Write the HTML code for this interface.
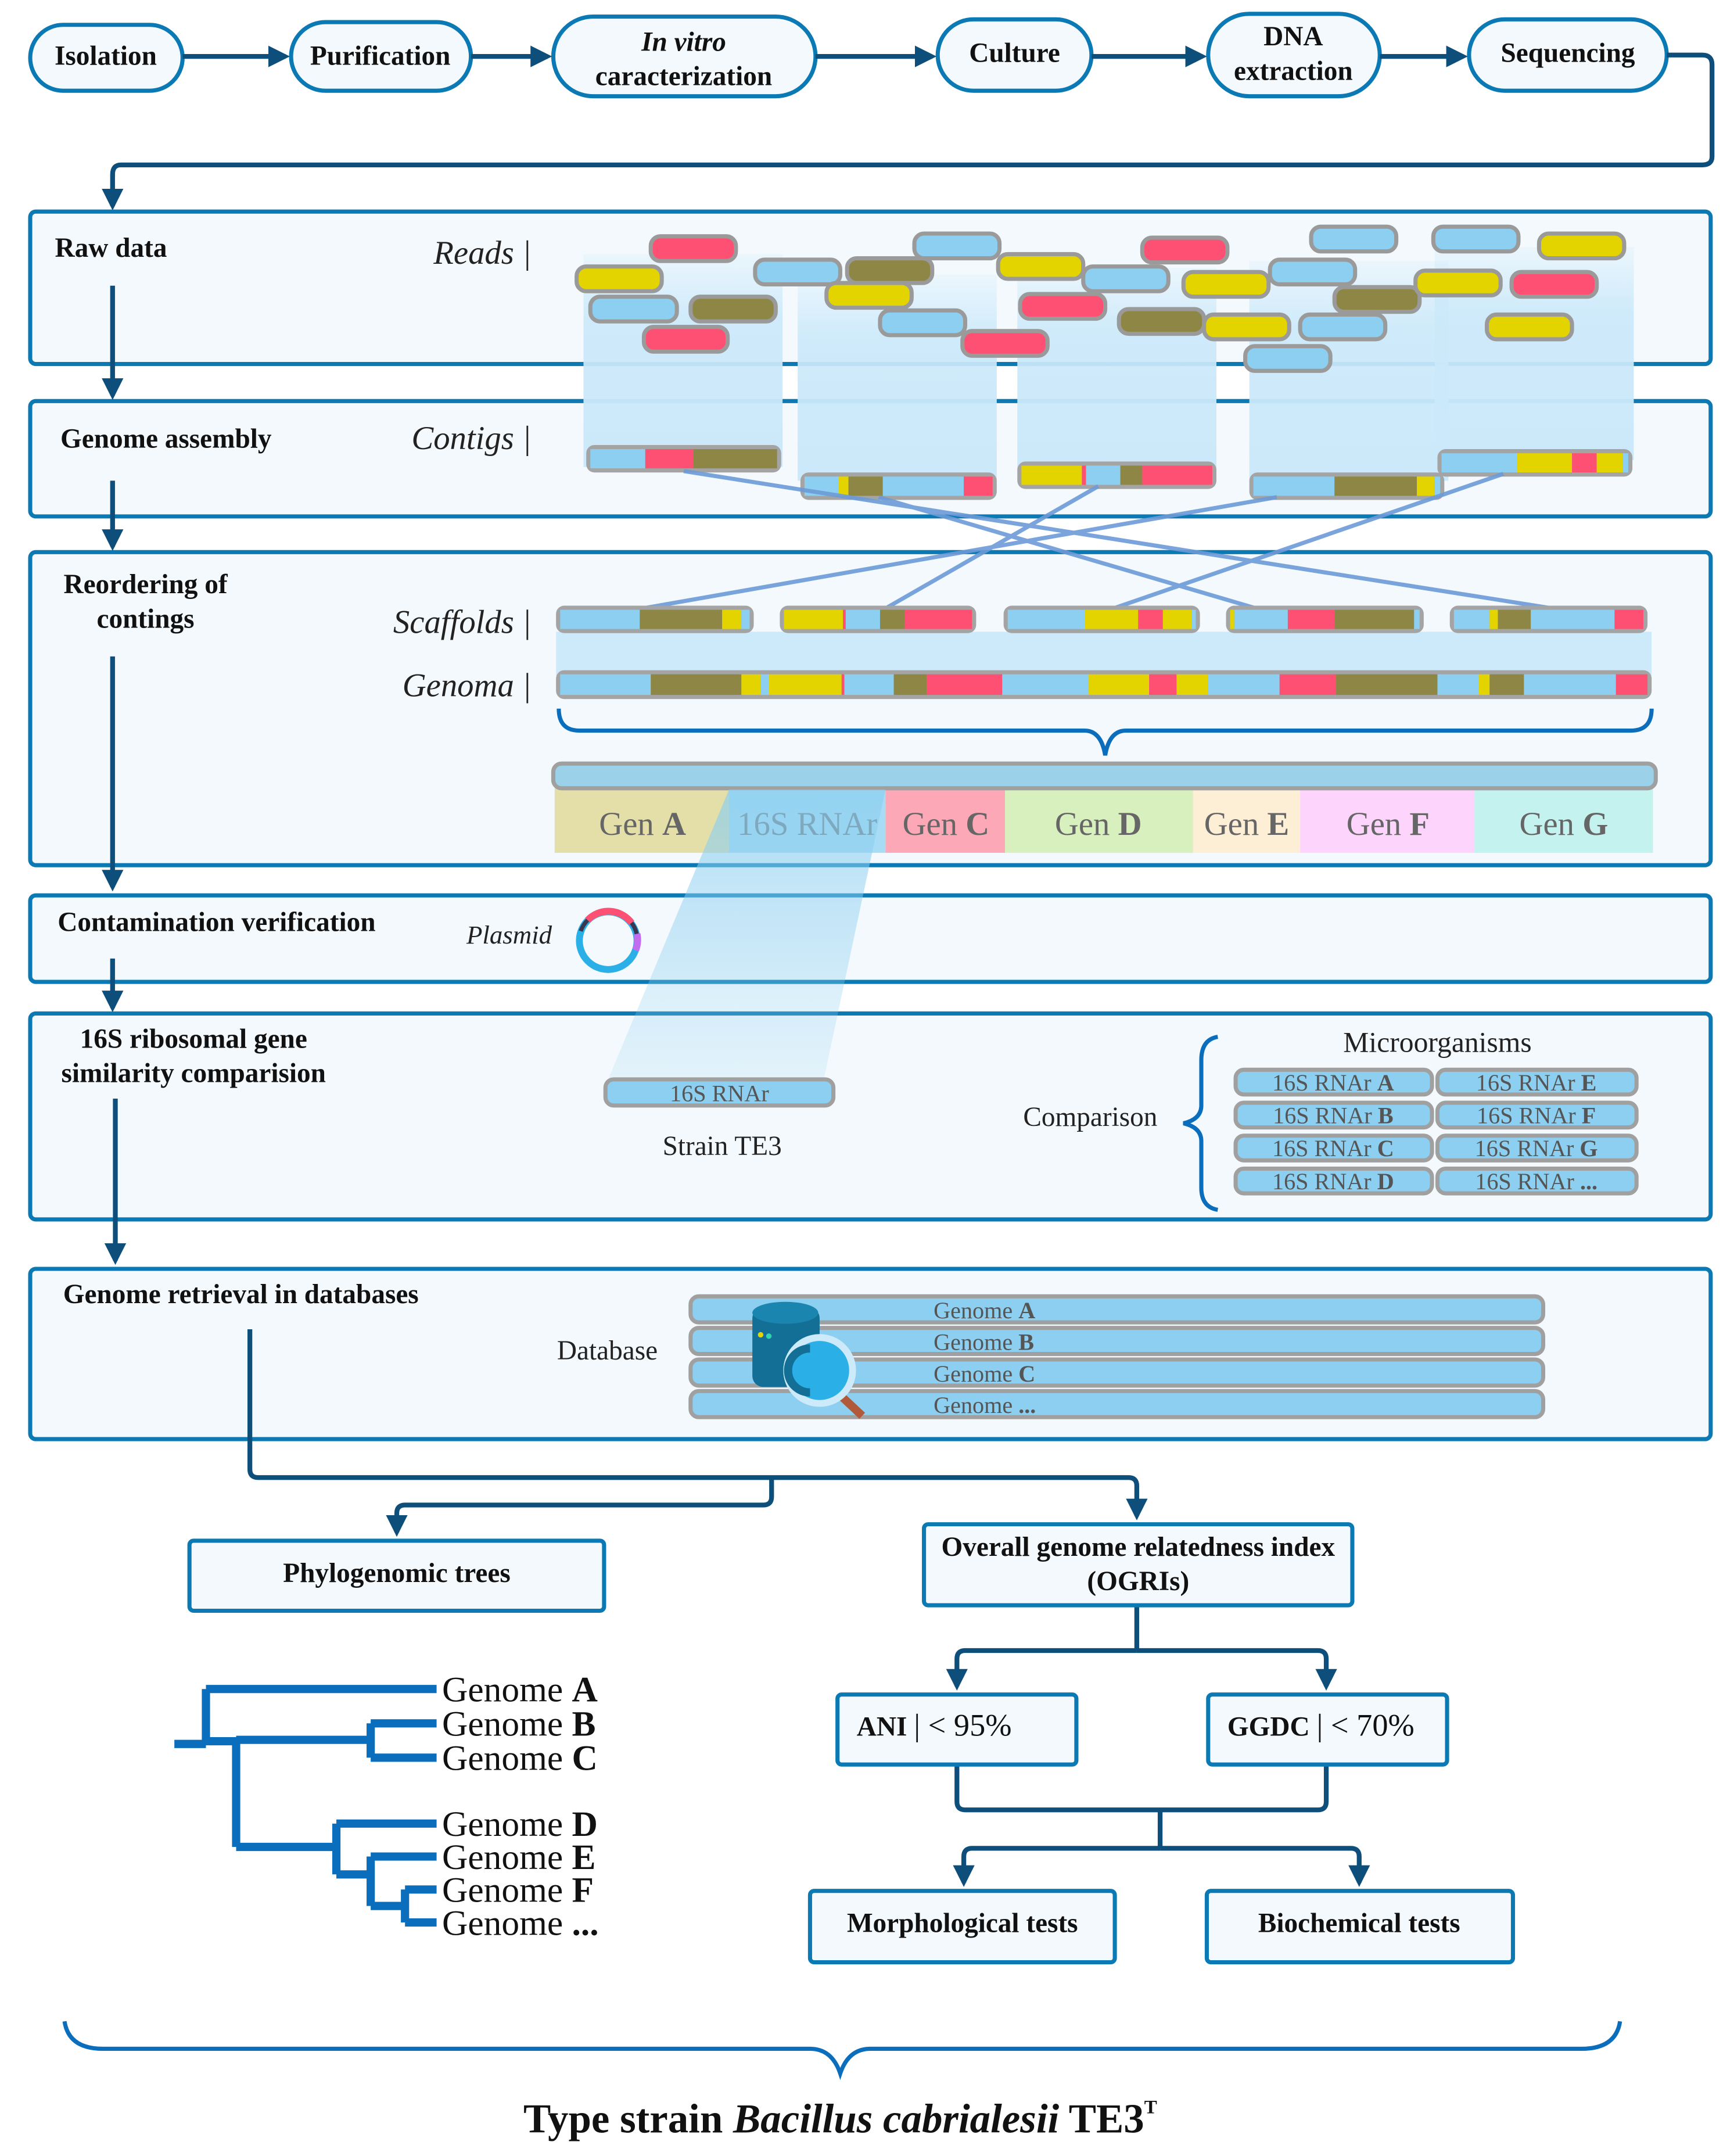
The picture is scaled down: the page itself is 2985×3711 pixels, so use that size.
<!DOCTYPE html>
<html><head><meta charset="utf-8"><style>
html,body{margin:0;padding:0;background:#fff}
svg{display:block}
text{font-family:"Liberation Serif",serif}
.b{font-weight:bold;font-size:20px;fill:#111}
.it{font-style:italic;font-size:24px;fill:#222}
.g{font-size:24px;fill:#666}
.sm{font-size:16px;fill:#555}
</style></head><body>
<svg width="2985" height="3711" viewBox="0 0 1263 1570" xmlns="http://www.w3.org/2000/svg">
<defs>
<marker id="ar" viewBox="0 0 10 10" refX="8" refY="5" markerWidth="4.5" markerHeight="4.5" orient="auto"><path d="M0,0L10,5L0,10z" fill="#0d4f7a"/></marker>
<linearGradient id="col" x1="0" y1="0" x2="0" y2="1"><stop offset="0" stop-color="#cbe9fa" stop-opacity="0.2"/><stop offset="0.3" stop-color="#cbe9fa" stop-opacity="0.9"/><stop offset="1" stop-color="#cbe9fa"/></linearGradient>
<linearGradient id="cone" x1="0" y1="0" x2="0" y2="1"><stop offset="0" stop-color="#8ccff0" stop-opacity="0.7"/><stop offset="1" stop-color="#8ccff0" stop-opacity="0.15"/></linearGradient>
</defs>
<rect width="1263" height="1570" fill="#fff"/>

<g fill="#f3f9fd" stroke="#0b79b3" stroke-width="3">
<rect x="22" y="18" width="111" height="48" rx="24"/>
<rect x="212" y="16" width="131" height="50" rx="25"/>
<rect x="403" y="12" width="191" height="58" rx="29"/>
<rect x="683" y="14" width="112" height="52" rx="26"/>
<rect x="880" y="10" width="125" height="60" rx="30"/>
<rect x="1070" y="14" width="144" height="52" rx="26"/>
</g>
<g class="b" text-anchor="middle">
<text x="77" y="47" class="b">Isolation</text>
<text x="277" y="47" class="b">Purification</text>
<text x="498" y="37" class="b" font-style="italic">In vitro</text>
<text x="498" y="62" class="b">caracterization</text>
<text x="739" y="45" class="b">Culture</text>
<text x="942" y="33" class="b">DNA</text>
<text x="942" y="58" class="b">extraction</text>
<text x="1142" y="45" class="b">Sequencing</text>
</g>
<g stroke="#0d4f7a" stroke-width="3.5" fill="none" marker-end="url(#ar)">
<line x1="133" y1="41" x2="208" y2="41"/>
<line x1="343" y1="41" x2="399" y2="41"/>
<line x1="594" y1="41" x2="679" y2="41"/>
<line x1="795" y1="41" x2="876" y2="41"/>
<line x1="1005" y1="41" x2="1066" y2="41"/>
<path d="M1214,40 H1240 Q1247,40 1247,47 V114 Q1247,120 1240,120 H88 Q82,120 82,127 V150"/>
</g>

<g fill="#f3f9fd" stroke="#0b79b3" stroke-width="3">
<rect x="22" y="154" width="1224" height="111" rx="4"/>
<rect x="22" y="292" width="1224" height="84" rx="4"/>
<rect x="22" y="402" width="1224" height="228" rx="4"/>
<rect x="22" y="652" width="1224" height="63" rx="4"/>
<rect x="22" y="738" width="1224" height="150" rx="4"/>
<rect x="22" y="924" width="1224" height="124" rx="4"/>
</g>
<g stroke="#0d4f7a" stroke-width="3.5" fill="none" marker-end="url(#ar)">
<line x1="82" y1="208" x2="82" y2="288"/>
<line x1="82" y1="350" x2="82" y2="398"/>
<line x1="82" y1="478" x2="82" y2="646"/>
<line x1="82" y1="698" x2="82" y2="734"/>
<line x1="84" y1="800" x2="84" y2="918"/>
</g>
<text x="40" y="187" class="b">Raw data</text>
<text x="44" y="326" class="b">Genome assembly</text>
<text x="106" y="432" class="b" text-anchor="middle">Reordering of</text>
<text x="106" y="457" class="b" text-anchor="middle">contings</text>
<text x="42" y="678" class="b">Contamination verification</text>
<text x="141" y="763" class="b" text-anchor="middle">16S ribosomal gene</text>
<text x="141" y="788" class="b" text-anchor="middle">similarity comparision</text>
<text x="46" y="949" class="b">Genome retrieval in databases</text>

<text x="387" y="192" class="it" text-anchor="end">Reads |</text>
<text x="387" y="327" class="it" text-anchor="end">Contigs |</text>
<text x="387" y="461" class="it" text-anchor="end">Scaffolds |</text>
<text x="387" y="507" class="it" text-anchor="end">Genoma |</text>

<g fill="url(#col)">
<rect x="425" y="185" width="145" height="155"/>
<rect x="581" y="200" width="145" height="150"/>
<rect x="741" y="195" width="145" height="150"/>
<rect x="910" y="190" width="145" height="160"/>
<rect x="1045" y="180" width="145" height="155"/>
</g>

<g stroke="#9a9a9a" stroke-width="3">
<rect x="474" y="172" width="62" height="18" rx="7" fill="#fd5073"/>
<rect x="420" y="194" width="62" height="18" rx="7" fill="#e3d400"/>
<rect x="430" y="216" width="63" height="18" rx="7" fill="#8ccff0"/>
<rect x="503" y="216" width="62" height="18" rx="7" fill="#8e8645"/>
<rect x="469" y="238" width="61" height="18" rx="7" fill="#fd5073"/>
<rect x="666" y="170" width="62" height="18" rx="7" fill="#8ccff0"/>
<rect x="550" y="189" width="62" height="18" rx="7" fill="#8ccff0"/>
<rect x="617" y="188" width="62" height="18" rx="7" fill="#8e8645"/>
<rect x="602" y="206" width="62" height="18" rx="7" fill="#e3d400"/>
<rect x="641" y="226" width="62" height="18" rx="7" fill="#8ccff0"/>
<rect x="701" y="241" width="62" height="18" rx="7" fill="#fd5073"/>
<rect x="727" y="185" width="62" height="18" rx="7" fill="#e3d400"/>
<rect x="832" y="173" width="62" height="18" rx="7" fill="#fd5073"/>
<rect x="789" y="194" width="62" height="18" rx="7" fill="#8ccff0"/>
<rect x="743" y="214" width="62" height="18" rx="7" fill="#fd5073"/>
<rect x="815" y="225" width="62" height="18" rx="7" fill="#8e8645"/>
<rect x="862" y="198" width="62" height="18" rx="7" fill="#e3d400"/>
<rect x="877" y="229" width="62" height="18" rx="7" fill="#e3d400"/>
<rect x="955" y="165" width="62" height="18" rx="7" fill="#8ccff0"/>
<rect x="925" y="189" width="62" height="18" rx="7" fill="#8ccff0"/>
<rect x="972" y="209" width="62" height="18" rx="7" fill="#8e8645"/>
<rect x="947" y="229" width="62" height="18" rx="7" fill="#8ccff0"/>
<rect x="907" y="252" width="62" height="18" rx="7" fill="#8ccff0"/>
<rect x="1044" y="165" width="62" height="18" rx="7" fill="#8ccff0"/>
<rect x="1121" y="170" width="62" height="18" rx="7" fill="#e3d400"/>
<rect x="1031" y="197" width="62" height="18" rx="7" fill="#e3d400"/>
<rect x="1101" y="198" width="62" height="18" rx="7" fill="#fd5073"/>
<rect x="1083" y="229" width="62" height="18" rx="7" fill="#e3d400"/>
</g>

<g>
<rect x="427" y="324" width="142" height="20" rx="6" fill="#a4a4a4"/>
<rect x="430" y="327" width="40" height="14" fill="#8ccff0"/><rect x="470" y="327" width="35" height="14" fill="#fd5073"/><rect x="505" y="327" width="61" height="14" fill="#8e8645"/>
<rect x="583" y="344" width="143" height="20" rx="6" fill="#a4a4a4"/>
<rect x="586" y="347" width="25" height="14" fill="#8ccff0"/><rect x="611" y="347" width="7" height="14" fill="#e3d400"/><rect x="618" y="347" width="25" height="14" fill="#8e8645"/><rect x="643" y="347" width="59" height="14" fill="#8ccff0"/><rect x="702" y="347" width="21" height="14" fill="#fd5073"/>
<rect x="741" y="336" width="145" height="20" rx="6" fill="#a4a4a4"/>
<rect x="744" y="339" width="44" height="14" fill="#e3d400"/><rect x="788" y="339" width="3" height="14" fill="#fd5073"/><rect x="791" y="339" width="25" height="14" fill="#8ccff0"/><rect x="816" y="339" width="16" height="14" fill="#8e8645"/><rect x="832" y="339" width="51" height="14" fill="#fd5073"/>
<rect x="910" y="344" width="142" height="20" rx="6" fill="#a4a4a4"/>
<rect x="913" y="347" width="59" height="14" fill="#8ccff0"/><rect x="972" y="347" width="60" height="14" fill="#8e8645"/><rect x="1032" y="347" width="13" height="14" fill="#e3d400"/><rect x="1045" y="347" width="4" height="14" fill="#8ccff0"/>
<rect x="1047" y="327" width="142" height="20" rx="6" fill="#a4a4a4"/>
<rect x="1050" y="330" width="55" height="14" fill="#8ccff0"/><rect x="1105" y="330" width="40" height="14" fill="#e3d400"/><rect x="1145" y="330" width="18" height="14" fill="#fd5073"/><rect x="1163" y="330" width="19" height="14" fill="#e3d400"/><rect x="1182" y="330" width="4" height="14" fill="#8ccff0"/>
</g>

<rect x="405" y="460" width="798" height="32" fill="#cdeafa"/>

<g stroke="#6c9bd8" stroke-width="3" opacity="0.9">
<line x1="498" y1="343" x2="1131" y2="443"/>
<line x1="930" y1="362" x2="468" y2="443"/>
<line x1="800" y1="354" x2="645" y2="443"/>
<line x1="1095" y1="345" x2="811" y2="443"/>
<line x1="640" y1="362" x2="915" y2="443"/>
</g>

<g>
<rect x="405" y="441" width="144" height="20" rx="6" fill="#a4a4a4"/>
<rect x="408" y="444" width="58" height="14" fill="#8ccff0"/><rect x="466" y="444" width="60" height="14" fill="#8e8645"/><rect x="526" y="444" width="14" height="14" fill="#e3d400"/><rect x="540" y="444" width="6" height="14" fill="#8ccff0"/>
<rect x="568" y="441" width="143" height="20" rx="6" fill="#a4a4a4"/>
<rect x="571" y="444" width="43" height="14" fill="#e3d400"/><rect x="614" y="444" width="2" height="14" fill="#fd5073"/><rect x="616" y="444" width="25" height="14" fill="#8ccff0"/><rect x="641" y="444" width="18" height="14" fill="#8e8645"/><rect x="659" y="444" width="49" height="14" fill="#fd5073"/>
<rect x="731" y="441" width="143" height="20" rx="6" fill="#a4a4a4"/>
<rect x="734" y="444" width="56" height="14" fill="#8ccff0"/><rect x="790" y="444" width="39" height="14" fill="#e3d400"/><rect x="829" y="444" width="18" height="14" fill="#fd5073"/><rect x="847" y="444" width="21" height="14" fill="#e3d400"/><rect x="868" y="444" width="3" height="14" fill="#8ccff0"/>
<rect x="893" y="441" width="144" height="20" rx="6" fill="#a4a4a4"/>
<rect x="896" y="444" width="3" height="14" fill="#e3d400"/><rect x="899" y="444" width="39" height="14" fill="#8ccff0"/><rect x="938" y="444" width="34" height="14" fill="#fd5073"/><rect x="972" y="444" width="58" height="14" fill="#8e8645"/><rect x="1030" y="444" width="4" height="14" fill="#8ccff0"/>
<rect x="1056" y="441" width="144" height="20" rx="6" fill="#a4a4a4"/>
<rect x="1059" y="444" width="26" height="14" fill="#8ccff0"/><rect x="1085" y="444" width="6" height="14" fill="#e3d400"/><rect x="1091" y="444" width="24" height="14" fill="#8e8645"/><rect x="1115" y="444" width="61" height="14" fill="#8ccff0"/><rect x="1176" y="444" width="21" height="14" fill="#fd5073"/>
</g>
<g>
<rect x="405" y="488" width="798" height="21" rx="6" fill="#a4a4a4"/>
<g transform="translate(0,491)">
<rect x="408" width="66" height="15" fill="#8ccff0"/><rect x="474" width="66" height="15" fill="#8e8645"/><rect x="540" width="14" height="15" fill="#e3d400"/><rect x="554" width="6" height="15" fill="#8ccff0"/><rect x="560" width="53" height="15" fill="#e3d400"/><rect x="613" width="2" height="15" fill="#fd5073"/><rect x="615" width="36" height="15" fill="#8ccff0"/><rect x="651" width="24" height="15" fill="#8e8645"/><rect x="675" width="55" height="15" fill="#fd5073"/><rect x="730" width="63" height="15" fill="#8ccff0"/><rect x="793" width="44" height="15" fill="#e3d400"/><rect x="837" width="20" height="15" fill="#fd5073"/><rect x="857" width="23" height="15" fill="#e3d400"/><rect x="880" width="52" height="15" fill="#8ccff0"/><rect x="932" width="41" height="15" fill="#fd5073"/><rect x="973" width="74" height="15" fill="#8e8645"/><rect x="1047" width="30" height="15" fill="#8ccff0"/><rect x="1077" width="8" height="15" fill="#e3d400"/><rect x="1085" width="25" height="15" fill="#8e8645"/><rect x="1110" width="67" height="15" fill="#8ccff0"/><rect x="1177" width="23" height="15" fill="#fd5073"/>
</g>
</g>
<path d="M407,516 Q407,532 422,532 H790 Q802,532 805,550 Q808,532 820,532 H1188 Q1203,532 1203,516" fill="none" stroke="#0a6ebd" stroke-width="3"/>

<rect x="404" y="573" width="127" height="48" fill="#e4dea9"/>
<rect x="531" y="573" width="114" height="48" fill="#a8dcf5"/>
<rect x="645" y="573" width="87" height="48" fill="#fda8b6"/>
<rect x="732" y="573" width="137" height="48" fill="#d7f0bd"/>
<rect x="869" y="573" width="78" height="48" fill="#fdeed6"/>
<rect x="947" y="573" width="127" height="48" fill="#fdd4fb"/>
<rect x="1074" y="573" width="130" height="48" fill="#c3f2ef"/>
<rect x="403" y="556" width="803" height="18" rx="6" fill="#9bd2ea" stroke="#a0a0a0" stroke-width="3"/>
<g class="g" text-anchor="middle">
<text x="468" y="608" class="g">Gen <tspan font-weight="bold">A</tspan></text>
<text x="588" y="608" class="g" fill="#8aa">16S RNAr</text>
<text x="689" y="608" class="g">Gen <tspan font-weight="bold">C</tspan></text>
<text x="800" y="608" class="g">Gen <tspan font-weight="bold">D</tspan></text>
<text x="908" y="608" class="g">Gen <tspan font-weight="bold">E</tspan></text>
<text x="1011" y="608" class="g">Gen <tspan font-weight="bold">F</tspan></text>
<text x="1139" y="608" class="g">Gen <tspan font-weight="bold">G</tspan></text>
</g>

<polygon points="531,575 645,575 600,786 443,786" fill="url(#cone)"/>

<text x="402" y="687" class="it" style="font-size:19px" text-anchor="end">Plasmid</text>
<circle cx="443" cy="685" r="21" fill="none" stroke="#2ab0e6" stroke-width="5"/>
<path d="M428,670 A21,21 0 0 1 460,672" fill="none" stroke="#fd5073" stroke-width="5"/>
<path d="M460,672 A21,21 0 0 1 464,688" fill="none" stroke="#3a3550" stroke-width="3"/>
<path d="M464,680 A21,21 0 0 1 463,692" fill="none" stroke="#c26cf0" stroke-width="5"/>
<path d="M423,678 A21,21 0 0 1 428,670" fill="none" stroke="#3a3550" stroke-width="3"/>

<rect x="441" y="786" width="166" height="19" rx="6" fill="#8ccff0" stroke="#a0a0a0" stroke-width="3"/>
<text x="524" y="802" class="sm" text-anchor="middle" style="font-size:17px">16S RNAr</text>
<text x="526" y="841" style="font-size:20px;fill:#222" text-anchor="middle">Strain TE3</text>
<text x="843" y="820" style="font-size:20px;fill:#222" text-anchor="end">Comparison</text>
<path d="M887,755 Q875,757 875,772 V805 Q875,815 862,818 Q875,821 875,831 V865 Q875,879 887,881" fill="none" stroke="#0a6ebd" stroke-width="3"/>
<text x="1047" y="766" style="font-size:21px;fill:#222" text-anchor="middle">Microorganisms</text>
<g stroke="#a0a0a0" stroke-width="3" fill="#8ccff0">
<rect x="900" y="779" width="143" height="18" rx="6"/><rect x="1047" y="779" width="145" height="18" rx="6"/>
<rect x="900" y="803" width="143" height="18" rx="6"/><rect x="1047" y="803" width="145" height="18" rx="6"/>
<rect x="900" y="827" width="143" height="18" rx="6"/><rect x="1047" y="827" width="145" height="18" rx="6"/>
<rect x="900" y="851" width="143" height="18" rx="6"/><rect x="1047" y="851" width="145" height="18" rx="6"/>
</g>
<g class="sm" text-anchor="middle" style="font-size:17px">
<text x="971" y="794">16S RNAr <tspan font-weight="bold">A</tspan></text><text x="1119" y="794">16S RNAr <tspan font-weight="bold">E</tspan></text>
<text x="971" y="818">16S RNAr <tspan font-weight="bold">B</tspan></text><text x="1119" y="818">16S RNAr <tspan font-weight="bold">F</tspan></text>
<text x="971" y="842">16S RNAr <tspan font-weight="bold">C</tspan></text><text x="1119" y="842">16S RNAr <tspan font-weight="bold">G</tspan></text>
<text x="971" y="866">16S RNAr <tspan font-weight="bold">D</tspan></text><text x="1119" y="866">16S RNAr <tspan font-weight="bold">...</tspan></text>
</g>

<text x="479" y="990" style="font-size:20px;fill:#222" text-anchor="end">Database</text>
<g stroke="#a0a0a0" stroke-width="3" fill="#8ccff0">
<rect x="503" y="944" width="621" height="19" rx="6"/>
<rect x="503" y="967" width="621" height="19" rx="6"/>
<rect x="503" y="990" width="621" height="19" rx="6"/>
<rect x="503" y="1013" width="621" height="19" rx="6"/>
</g>
<g class="sm" style="font-size:17px">
<text x="680" y="960">Genome <tspan font-weight="bold">A</tspan></text>
<text x="680" y="983">Genome <tspan font-weight="bold">B</tspan></text>
<text x="680" y="1006">Genome <tspan font-weight="bold">C</tspan></text>
<text x="680" y="1029">Genome <tspan font-weight="bold">...</tspan></text>
</g>
<rect x="548" y="952" width="49" height="58" rx="8" fill="#136f95"/>
<ellipse cx="572" cy="956" rx="24" ry="8" fill="#1a86b0"/>
<circle cx="554" cy="972" r="2" fill="#e3d400"/><circle cx="560" cy="973" r="2" fill="#2fd3b0"/>
<line x1="612" y1="1016" x2="628" y2="1031" stroke="#b05a3a" stroke-width="6"/>
<circle cx="597" cy="998" r="24" fill="#2ab0e6" stroke="#cdeafa" stroke-width="5"/>
<path d="M590,982 A16,16 0 0 0 590,1014" fill="none" stroke="#136f95" stroke-width="6"/>

<g stroke="#0d4f7a" stroke-width="3.5" fill="none">
<path d="M182,968 V1070 Q182,1076 188,1076 H822 Q828,1076 828,1082 V1104" marker-end="url(#ar)"/>
<path d="M562,1076 V1090 Q562,1096 556,1096 H295 Q289,1096 289,1102 V1116" marker-end="url(#ar)"/>
<path d="M828,1169 V1202"/>
<path d="M828,1202 H703 Q697,1202 697,1208 V1228" marker-end="url(#ar)"/>
<path d="M828,1202 H960 Q966,1202 966,1208 V1228" marker-end="url(#ar)"/>
<path d="M697,1285 V1312 Q697,1318 703,1318 H960 Q966,1318 966,1312 V1285"/>
<path d="M845,1318 V1346"/>
<path d="M845,1346 H708 Q702,1346 702,1352 V1371" marker-end="url(#ar)"/>
<path d="M845,1346 H984 Q990,1346 990,1352 V1371" marker-end="url(#ar)"/>
</g>
<g fill="#f3f9fd" stroke="#0b79b3" stroke-width="3">
<rect x="138" y="1122" width="302" height="51" rx="3"/>
<rect x="673" y="1110" width="312" height="59" rx="3"/>
<rect x="610" y="1234" width="174" height="51" rx="3"/>
<rect x="880" y="1234" width="174" height="51" rx="3"/>
<rect x="590" y="1377" width="222" height="52" rx="3"/>
<rect x="879" y="1377" width="223" height="52" rx="3"/>
</g>
<text x="289" y="1152" class="b" text-anchor="middle">Phylogenomic trees</text>
<text x="829" y="1133" class="b" text-anchor="middle">Overall genome relatedness index</text>
<text x="829" y="1158" class="b" text-anchor="middle">(OGRIs)</text>
<text x="624" y="1264" class="b">ANI <tspan font-weight="normal" font-size="23"> | &lt; 95%</tspan></text>
<text x="894" y="1264" class="b">GGDC <tspan font-weight="normal" font-size="23"> | &lt; 70%</tspan></text>
<text x="701" y="1407" class="b" text-anchor="middle">Morphological tests</text>
<text x="990" y="1407" class="b" text-anchor="middle">Biochemical tests</text>

<g stroke="#0a6ebd" stroke-width="6" fill="none">
<path d="M127,1270 H150"/>
<path d="M150,1230 V1268"/>
<path d="M150,1230 H318"/>
<path d="M150,1268 H172"/>
<path d="M172,1267 V1345"/>
<path d="M172,1267 H270"/>
<path d="M270,1255 V1280 M270,1255 H318 M270,1280 H318"/>
<path d="M172,1345 H245"/>
<path d="M245,1328 V1365 M245,1328 H318 M245,1365 H270"/>
<path d="M270,1352 V1388 M270,1352 H318 M270,1388 H295"/>
<path d="M295,1376 V1400 M295,1376 H318 M295,1400 H318"/>
</g>
<g style="font-size:26px;fill:#111">
<text x="322" y="1239">Genome <tspan font-weight="bold">A</tspan></text>
<text x="322" y="1264">Genome <tspan font-weight="bold">B</tspan></text>
<text x="322" y="1289">Genome <tspan font-weight="bold">C</tspan></text>
<text x="322" y="1337">Genome <tspan font-weight="bold">D</tspan></text>
<text x="322" y="1361">Genome <tspan font-weight="bold">E</tspan></text>
<text x="322" y="1385">Genome <tspan font-weight="bold">F</tspan></text>
<text x="322" y="1409">Genome <tspan font-weight="bold">...</tspan></text>
</g>

<path d="M47,1472 Q50,1492 75,1492 H590 Q606,1492 612,1510 Q618,1492 634,1492 H1152 Q1177,1492 1180,1472" fill="none" stroke="#0a6ebd" stroke-width="3"/>
<text x="612" y="1553" text-anchor="middle" style="font-size:30px;fill:#111;font-weight:bold">Type strain <tspan font-style="italic">Bacillus cabrialesii</tspan> TE3<tspan font-size="14" dy="-14">T</tspan></text>
</svg>
</body></html>
